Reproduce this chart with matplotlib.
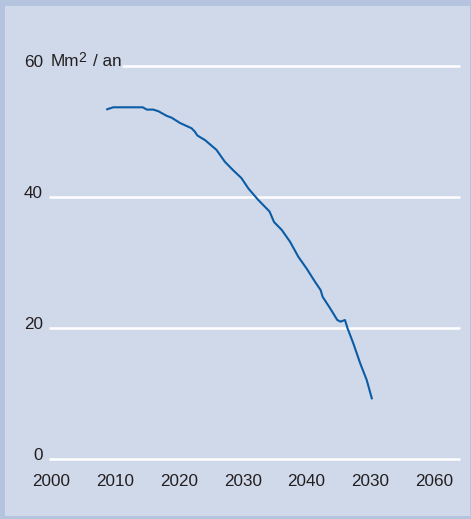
import matplotlib
matplotlib.use("Agg")
import matplotlib.pyplot as plt
import matplotlib.transforms as mtransforms
from matplotlib.patches import Rectangle

# Data
years = [2008.8, 2009.75, 2014.35, 2015.0, 2016.0, 2016.8, 2018.1, 2018.9, 2020.2,
         2022.0, 2022.5, 2022.9, 2024.1, 2025.9, 2027.2, 2028.5, 2029.8, 2030.9,
         2032.4, 2034.2, 2034.9, 2036.1, 2037.4, 2038.7, 2040.0, 2041.3, 2042.2,
         2042.5, 2043.7, 2044.8, 2045.3, 2046.0, 2046.4, 2047.3, 2048.4, 2049.4, 2050.2]
values = [53.4, 53.7, 53.7, 53.35, 53.35, 53.1, 52.4, 52.1, 51.3,
          50.5, 50.0, 49.4, 48.7, 47.2, 45.4, 44.1, 42.9, 41.3,
          39.6, 37.8, 36.2, 35.0, 33.2, 30.9, 29.1, 27.1, 25.8,
          24.8, 23.0, 21.25, 21.0, 21.25, 20.0, 17.7, 14.6, 12.1, 9.3]
xtick_pos = [2000, 2010, 2020, 2030, 2040, 2050, 2060]
xtick_labels = ["2000", "2010", "2020", "2030", "2040", "2030", "2060"]
ytick_pos = [0, 20, 40, 60]
unit_label = ("Mm", "2", "/ an")

plt.rcParams['font.family'] = ['Liberation Sans', 'DejaVu Sans']

W, H = 471, 519
fig = plt.figure(figsize=(W / 100, H / 100), dpi=100)
border = "#b4c4df"
inner = "#d0d9ea"
fig.patch.set_facecolor(border)
# inner panel (left 5px, top 6px, bottom 3px, right 1px borders)
fig.patches.append(Rectangle((5 / W, 3 / H), (W - 6) / W, (H - 9) / H,
                             transform=fig.transFigure, facecolor=inner,
                             edgecolor="none", zorder=-10))

left_px, right_px = 49, 460
top_px, bottom_px = 66, 459.3
ax = fig.add_axes([left_px / W, (H - bottom_px) / H,
                   (right_px - left_px) / W, (bottom_px - top_px) / H])
ax.set_facecolor("none")
ax.set_xlim(1999.69, 2064.0)
ax.set_ylim(0, 60)
for s in ax.spines.values():
    s.set_visible(False)

text_color = "#231f20"
# gridlines
for v in ytick_pos:
    xmin = 0.178 if v == 60 else 0.0
    ax.axhline(v, xmin=xmin, xmax=1.0, color="white", lw=1.8, zorder=1,
               clip_on=False, solid_capstyle="butt")

ax.plot(years, values, color="#0b5ca5", lw=1.5, zorder=3, solid_joinstyle="round")

ax.set_xticks(xtick_pos)
ax.set_xticklabels(xtick_labels, fontsize=12.3, color=text_color)
ax.tick_params(axis="x", length=0, pad=10.8)
ax.set_yticks([])

ytrans = ax.get_yaxis_transform() + mtransforms.ScaledTranslation(
    -6 / 100, 3.8 / 100, fig.dpi_scale_trans)
for v in ytick_pos:
    ax.text(0, v, str(v), transform=ytrans, ha="right", va="center",
            fontsize=12.3, color=text_color)

utrans = ax.get_yaxis_transform() + mtransforms.ScaledTranslation(
    1.7 / 100, 5.0 / 100, fig.dpi_scale_trans)
t_mm = ax.text(0, 60, unit_label[0], transform=utrans, ha="left", va="center",
               fontsize=12.3, color=text_color)
ax.annotate(unit_label[1], xy=(1, 1), xycoords=t_mm, xytext=(-0.5, 2.0),
            textcoords="offset points", ha="left", va="top", fontsize=10,
            color=text_color)
ax.annotate(unit_label[2], xy=(1, 0), xycoords=t_mm, xytext=(10.2, 0),
            textcoords="offset points", ha="left", va="bottom", fontsize=12.3,
            color=text_color)

fig.savefig("out.png", dpi=100, facecolor=fig.get_facecolor())
